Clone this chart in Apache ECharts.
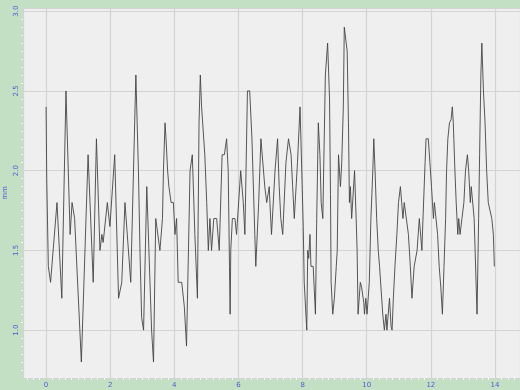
<!DOCTYPE html>
<html>
<head>
<meta charset="utf-8">
<script src="https://cdn.jsdelivr.net/npm/echarts@6/dist/echarts.min.js"></script>
<style>
  html, body { margin: 0; padding: 0; background: #c3e0c5; }
  #chart { width: 520px; height: 390px; }
</style>
</head>
<body>
<div id="chart"></div>
<script>
// Displacement trace: time positions and measured values (mm)
const timeValues = [
  0, 0.02, 0.07, 0.14, 0.34, 0.49, 0.62, 0.75, 0.81, 0.89, 1.10, 1.31, 1.36, 1.47, 1.57, 1.68, 1.74, 1.78, 1.91, 1.99,
  2.14, 2.26, 2.36, 2.46, 2.51, 2.64, 2.80, 2.84,
  2.88, 2.93, 2.98, 3.04, 3.07, 3.14, 3.19, 3.29, 3.35, 3.42, 3.45, 3.55, 3.63, 3.66, 3.71, 3.74, 3.79, 3.83, 3.90, 3.97,
  4.02, 4.07, 4.12, 4.23, 4.31, 4.38, 4.49, 4.56, 4.64, 4.72, 4.77, 4.81, 4.85, 4.90, 4.95, 5.01, 5.06, 5.11, 5.16, 5.23,
  5.32, 5.40, 5.49, 5.56, 5.63, 5.68, 5.72, 5.74,
  5.76, 5.81, 5.89, 5.94, 5.99, 6.07, 6.15, 6.20, 6.28, 6.35, 6.42, 6.51, 6.54, 6.63, 6.70, 6.75, 6.82, 6.88, 6.93, 6.96,
  6.98, 7.03, 7.08, 7.14, 7.22, 7.27, 7.32, 7.38, 7.48, 7.56, 7.64, 7.69, 7.74, 7.84, 7.92, 7.97, 8.02, 8.05, 8.13, 8.16,
  8.19, 8.23, 8.26, 8.33, 8.40, 8.44, 8.49, 8.54, 8.58, 8.63, 8.71, 8.78,
  8.84, 8.87, 8.89, 8.94, 8.99, 9.05, 9.08, 9.12, 9.15, 9.18, 9.22, 9.27, 9.30, 9.36, 9.39, 9.43, 9.46, 9.49, 9.53, 9.62,
  9.67, 9.70, 9.73, 9.80, 9.84, 9.91, 9.93, 9.97, 10.01, 10.08, 10.13, 10.19, 10.22, 10.26, 10.31, 10.36, 10.40, 10.45,
  10.50, 10.55, 10.60, 10.63, 10.71, 10.76, 10.79, 10.83, 10.88, 10.94, 10.99, 11.05, 11.09, 11.13, 11.17, 11.22, 11.30,
  11.36, 11.41, 11.48, 11.57, 11.64, 11.69, 11.72,
  11.76, 11.82, 11.85, 11.92, 11.97, 12.02, 12.05, 12.08, 12.11, 12.15, 12.21, 12.26, 12.31, 12.36, 12.41, 12.46, 12.49,
  12.53, 12.58, 12.63, 12.67, 12.70, 12.75, 12.79, 12.84, 12.87, 12.91, 12.97, 13.03, 13.08, 13.14, 13.18, 13.23, 13.26,
  13.31, 13.35, 13.38, 13.44, 13.49, 13.52, 13.56, 13.59, 13.64, 13.69, 13.74, 13.79, 13.85, 13.90, 13.95, 13.98
];
const displacementMm = [
  2.4, 1.95, 1.4, 1.3, 1.8, 1.2, 2.5, 1.6, 1.8, 1.7, 0.8, 2.1, 2.1, 1.3, 2.2, 1.5, 1.6, 1.55, 1.8, 1.65,
  2.1, 1.2, 1.3, 1.8, 1.8, 1.3, 2.6, 2.6,
  2.0, 1.48, 1.08, 1.0, 1.0, 1.9, 1.9, 1.0, 0.8, 1.7, 1.7, 1.5, 1.7, 2.0, 2.3, 2.2, 2.0, 1.9, 1.8, 1.8,
  1.6, 1.7, 1.3, 1.3, 1.15, 0.9, 2.0, 2.1, 1.6, 1.2, 2.3, 2.6, 2.4, 2.4, 2.1, 1.8, 1.5, 1.7, 1.5, 1.7,
  1.7, 1.5, 2.1, 2.1, 2.2, 2.0, 1.4, 1.1,
  1.5, 1.7, 1.7, 1.6, 1.6, 2.0, 1.8, 1.6, 2.5, 2.5, 2.2, 1.6, 1.4, 1.8, 2.2, 2.2, 1.9, 1.8, 1.8, 1.9,
  1.8, 1.6, 1.6, 2.0, 2.2, 1.9, 1.7, 1.6, 2.05, 2.2, 2.1, 1.9, 1.7, 2.05, 2.4, 2.4, 1.65, 1.3, 1.0, 1.5,
  1.45, 1.6, 1.4, 1.4, 1.1, 1.7, 2.3, 2.1, 1.8, 1.7, 2.6, 2.8,
  2.45, 1.85, 1.3, 1.1, 1.2, 1.4, 1.5, 2.1, 2.0, 1.9, 2.05, 2.4, 2.9, 2.9, 2.75, 2.3, 1.8, 1.9, 1.7, 2.0,
  1.7, 1.5, 1.1, 1.3, 1.27, 1.17, 1.1, 1.2, 1.1, 1.3, 1.7, 2.0, 2.2, 2.0, 1.7, 1.5, 1.4, 1.4,
  1.1, 1.0, 1.1, 1.0, 1.2, 1.02, 1.0, 1.2, 1.4, 1.6, 1.8, 1.9, 1.8, 1.7, 1.8, 1.8, 1.6,
  1.4, 1.2, 1.4, 1.5, 1.7, 1.7, 1.5,
  1.73, 2.05, 2.2, 2.2, 2.05, 1.9, 1.8, 1.7, 1.8, 1.8, 1.6, 1.4, 1.27, 1.1, 1.4, 1.7, 2.0,
  2.2, 2.3, 2.32, 2.4, 2.3, 2.0, 1.8, 1.6, 1.7, 1.6, 1.7, 1.8, 2.0, 2.1, 2.0, 1.8, 1.9,
  1.9, 1.7, 1.5, 1.1, 1.7, 2.1, 2.6, 2.8, 2.5, 2.3, 2.0, 1.8, 1.8, 1.7, 1.6, 1.4
];
const yAxisName = 'mm';

const points = timeValues.map((t, i) => [t, displacementMm[i]]);

const labelStyle = {
  color: '#4a5cd4',
  fontSize: 7,
  fontFamily: 'DejaVu Sans'
};

const chart = echarts.init(document.getElementById('chart'), null, { renderer: 'canvas' });
chart.setOption({
  backgroundColor: '#c3e0c5',
  animation: false,
  grid: {
    left: 23, right: 0, top: 8, bottom: 12,
    containLabel: false,
    outerBoundsMode: 'none',
    show: true,
    backgroundColor: '#efefef',
    borderWidth: 0
  },
  xAxis: {
    type: 'value',
    min: -0.72,
    max: 14.78,
    splitNumber: 8,
    axisLine: { show: false, onZero: false },
    axisTick: { show: false },
    minorTick: { show: true, splitNumber: 10, length: 2, lineStyle: { color: '#f4f8f4', width: 1 } },
    axisLabel: Object.assign({ margin: 4, showMinLabel: false, showMaxLabel: false }, labelStyle),
    splitLine: { show: true, lineStyle: { color: '#d3d3d3', width: 1.2 } }
  },
  yAxis: {
    type: 'value',
    min: 0.7,
    max: 3.02,
    splitNumber: 5,
    name: yAxisName,
    nameLocation: 'middle',
    nameRotate: 90,
    nameGap: 14,
    nameMoveOverlap: false,
    nameTextStyle: labelStyle,
    axisLine: { show: false, onZero: false },
    axisTick: { show: false },
    minorTick: { show: true, splitNumber: 10, length: 2, lineStyle: { color: '#f4f8f4', width: 1 } },
    axisLabel: Object.assign({ margin: 3, rotate: 90, showMinLabel: false, showMaxLabel: false,
      formatter: v => v.toFixed(1) }, labelStyle),
    splitLine: { show: true, lineStyle: { color: '#d3d3d3', width: 1.2 } }
  },
  series: [{
    type: 'line',
    data: points,
    showSymbol: false,
    symbol: 'none',
    lineStyle: { color: '#444444', width: 0.9 },
    silent: true
  }]
});
</script>
</body>
</html>
